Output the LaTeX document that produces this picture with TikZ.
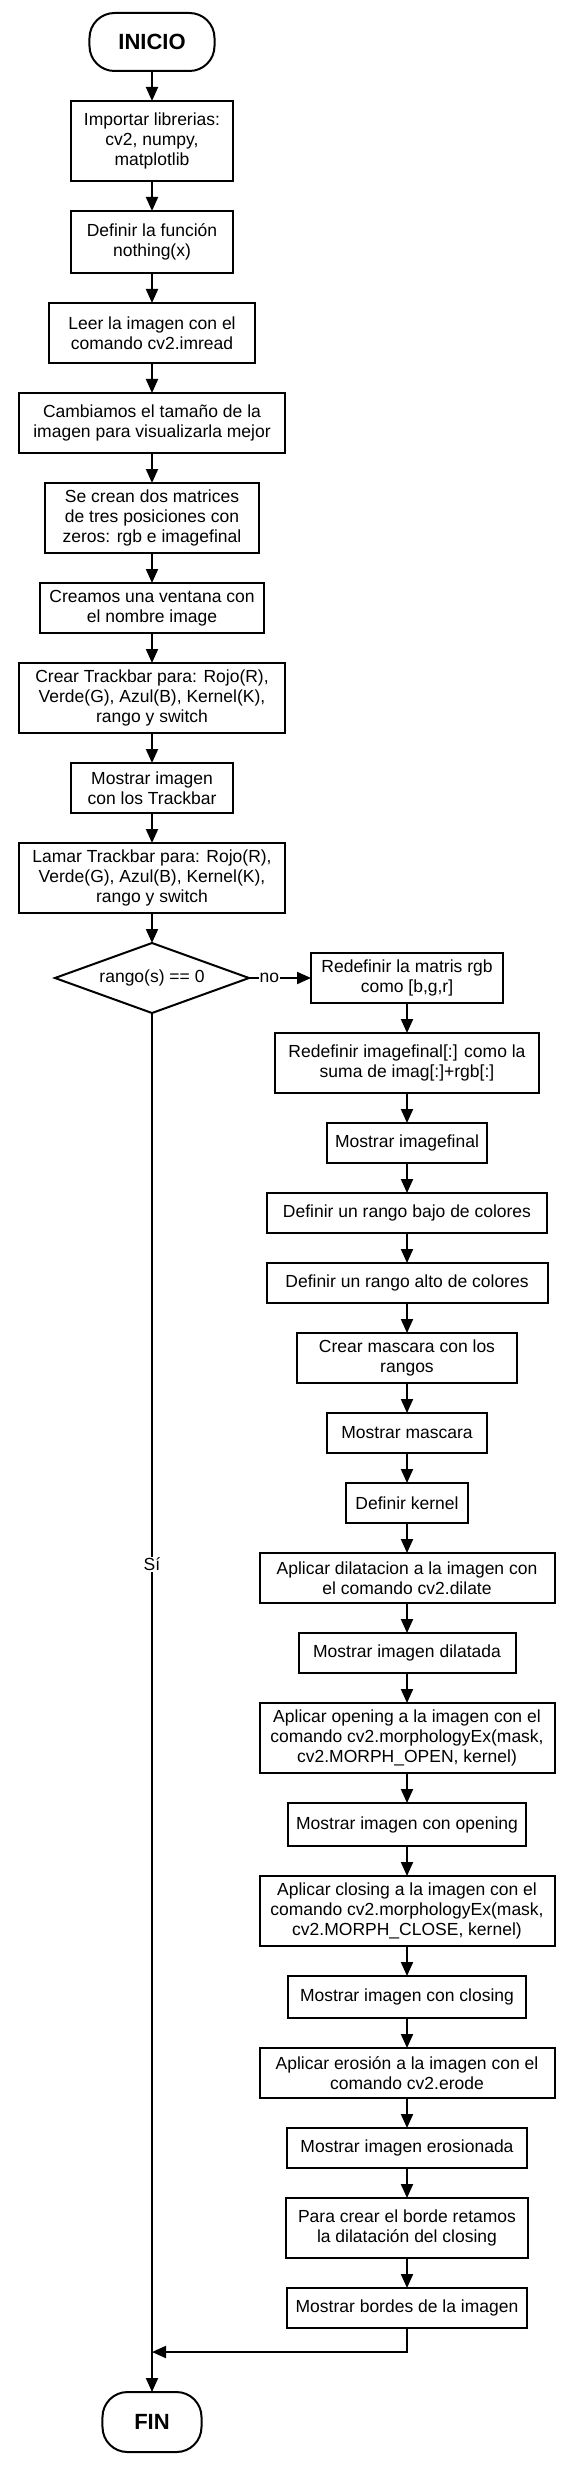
\documentclass[tikz,border=0pt]{standalone}
\usepackage{fontspec}
\setmainfont{Liberation Sans}
\usetikzlibrary{shapes.geometric,arrows.meta,positioning}

\begin{document}
\begin{tikzpicture}[node distance=30pt, line width=2pt, >={Triangle[length=14pt,width=12pt]},
    box/.style={draw, rectangle, align=center, inner sep=1pt, outer sep=0pt, font=\fontsize{17.5pt}{20pt}\selectfont},
    term/.style={draw, rectangle, rounded corners=25pt, inner sep=1pt, outer sep=0pt, font=\fontsize{22pt}{26pt}\selectfont\bfseries},
    decision/.style={draw, diamond, aspect=2.77, inner sep=0pt, outer sep=0pt, font=\fontsize{17.5pt}{20pt}\selectfont},
    lbl/.style={fill=white, inner sep=1pt, font=\fontsize{17.5pt}{20pt}\selectfont}]

    \useasboundingbox (-152pt,42pt) rectangle (418pt,-2430pt);

    % columna principal
    \node[term, minimum width=125pt, minimum height=58pt] (inicio) {INICIO};
    \node[box, below=of inicio, minimum width=161pt, minimum height=80pt] (imp) {Importar librerias:\\cv2, numpy,\\matplotlib};
    \node[box, below=of imp, minimum width=161pt, minimum height=62pt] (fun) {Definir la función\\nothing(x)};
    \node[box, below=of fun, minimum width=206pt, minimum height=60pt] (leer) {Leer la imagen con el\\comando cv2.imread};
    \node[box, below=of leer, minimum width=265pt, minimum height=60pt] (tam) {Cambiamos el tamaño de la\\imagen para visualizarla mejor};
    \node[box, below=of tam, minimum width=214pt, minimum height=70pt] (mat) {Se crean dos matrices\\de tres posiciones con\\zeros: rgb e imagefinal};
    \node[box, below=of mat, minimum width=224pt, minimum height=50pt] (ven) {Creamos una ventana con\\el nombre image};
    \node[box, below=of ven, minimum width=265pt, minimum height=70pt] (tb1) {Crear Trackbar para: Rojo(R),\\Verde(G), Azul(B), Kernel(K),\\rango y switch};
    \node[box, below=of tb1, minimum width=161pt, minimum height=50pt] (most) {Mostrar imagen\\con los Trackbar};
    \node[box, below=of most, minimum width=265pt, minimum height=70pt] (tb2) {Lamar Trackbar para: Rojo(R),\\Verde(G), Azul(B), Kernel(K),\\rango y switch};
    \node[decision, below=of tb2, minimum width=194pt, minimum height=70pt] (dec) {rango(s) == 0};

    % rama "no"
    \node[box, right=62pt of dec, minimum width=192pt, minimum height=50pt] (r1) {Redefinir la matris rgb\\como [b,g,r]};
    \node[box, below=of r1, minimum width=264pt, minimum height=60pt] (r2) {Redefinir imagefinal[:] como la\\suma de imag[:]+rgb[:]};
    \node[box, below=of r2, minimum width=160pt, minimum height=40pt] (r3) {Mostrar imagefinal};
    \node[box, below=of r3, minimum width=280pt, minimum height=40pt] (r4) {Definir un rango bajo de colores};
    \node[box, below=of r4, minimum width=281pt, minimum height=40pt] (r5) {Definir un rango alto de colores};
    \node[box, below=of r5, minimum width=220pt, minimum height=50pt] (r6) {Crear mascara con los\\rangos};
    \node[box, below=of r6, minimum width=160pt, minimum height=40pt] (r7) {Mostrar mascara};
    \node[box, below=of r7, minimum width=122pt, minimum height=40pt] (r8) {Definir kernel};
    \node[box, below=of r8, minimum width=295pt, minimum height=50pt] (r9) {Aplicar dilatacion a la imagen con\\el comando cv2.dilate};
    \node[box, below=of r9, minimum width=217pt, minimum height=40pt] (r10) {Mostrar imagen dilatada};
    \node[box, below=of r10, minimum width=295pt, minimum height=70pt] (r11) {Aplicar opening a la imagen con el\\comando cv2.morphologyEx(mask,\\cv2.MORPH\_OPEN, kernel)};
    \node[box, below=of r11, minimum width=238pt, minimum height=43pt] (r12) {Mostrar imagen con opening};
    \node[box, below=of r12, minimum width=295pt, minimum height=70pt] (r13) {Aplicar closing a la imagen con el\\comando cv2.morphologyEx(mask,\\cv2.MORPH\_CLOSE, kernel)};
    \node[box, below=of r13, minimum width=238pt, minimum height=42pt] (r14) {Mostrar imagen con closing};
    \node[box, below=of r14, minimum width=295pt, minimum height=50pt] (r15) {Aplicar erosión a la imagen con el\\comando cv2.erode};
    \node[box, below=of r15, minimum width=240pt, minimum height=40pt] (r16) {Mostrar imagen erosionada};
    \node[box, below=of r16, minimum width=242pt, minimum height=60pt] (r17) {Para crear el borde retamos\\la dilatación del closing};
    \node[box, below=of r17, minimum width=240pt, minimum height=40pt] (r18) {Mostrar bordes de la imagen};

    \coordinate[below=24pt of r18] (junta);
    \coordinate (union) at (dec |- junta);
    \node[term, below=40pt of union, minimum width=99pt, minimum height=60pt] (fin) {FIN};

    \draw[->] (inicio) -- (imp);
    \draw[->] (imp) -- (fun);
    \draw[->] (fun) -- (leer);
    \draw[->] (leer) -- (tam);
    \draw[->] (tam) -- (mat);
    \draw[->] (mat) -- (ven);
    \draw[->] (ven) -- (tb1);
    \draw[->] (tb1) -- (most);
    \draw[->] (most) -- (tb2);
    \draw[->] (tb2) -- (dec);

    \draw[->] (dec) -- node[lbl, pos=0.33] {no} (r1);
    \draw[->] (dec) -- node[lbl, pos=0.4] {Sí} (fin);

    \draw[->] (r1) -- (r2);
    \draw[->] (r2) -- (r3);
    \draw[->] (r3) -- (r4);
    \draw[->] (r4) -- (r5);
    \draw[->] (r5) -- (r6);
    \draw[->] (r6) -- (r7);
    \draw[->] (r7) -- (r8);
    \draw[->] (r8) -- (r9);
    \draw[->] (r9) -- (r10);
    \draw[->] (r10) -- (r11);
    \draw[->] (r11) -- (r12);
    \draw[->] (r12) -- (r13);
    \draw[->] (r13) -- (r14);
    \draw[->] (r14) -- (r15);
    \draw[->] (r15) -- (r16);
    \draw[->] (r16) -- (r17);
    \draw[->] (r17) -- (r18);
    \draw[->] (r18) -- (junta) -- (union);

\end{tikzpicture}
\end{document}
